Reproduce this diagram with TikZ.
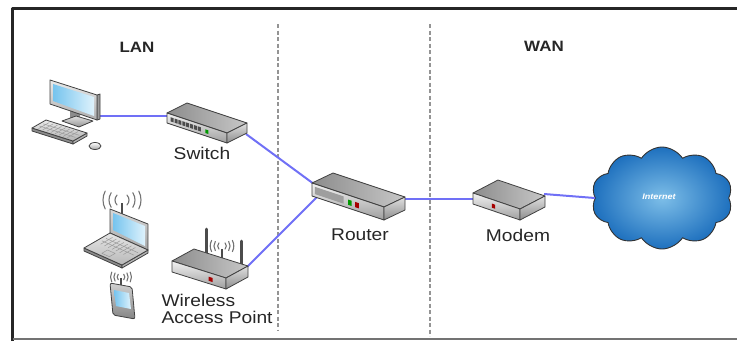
\documentclass[tikz,border=0pt]{standalone}
\usepackage{fontspec}
\setmainfont{Liberation Sans}
\usepackage{graphicx}
\usetikzlibrary{shapes.symbols}

\definecolor{linkblue}{RGB}{112,112,246}
\definecolor{scrlo}{RGB}{118,196,238}
\definecolor{scrhi}{RGB}{222,242,252}
\definecolor{cloudin}{RGB}{125,190,232}
\definecolor{cloudout}{RGB}{30,112,190}
\definecolor{edge}{RGB}{65,65,65}

% slightly widened lettering
\newcommand{\wide}[1]{\scalebox{1.13}[1]{#1}}

% box-shaped device: top, front and right faces in the device frame
\newcommand{\devbody}{%
  \path[devtop] (0,0,0) -- (1,0,0) -- (1,0,1) -- (0,0,1) -- cycle;
  \path[devfront] (0,0,0) -- (1,0,0) -- (1,1,0) -- (0,1,0) -- cycle;
  \path[devside] (1,0,0) -- (1,0,1) -- (1,1,1) -- (1,1,0) -- cycle;}

% small patch on the front face of a device
\newcommand{\facemark}[5]{\fill[#1] ({#2},{#3}) -- ({#4},{#3}) -- ({#4},{#5}) -- ({#2},{#5}) -- cycle;}

% radio waves around an antenna tip
\newcommand{\radiowaves}[3]{%
  \begin{scope}[shift={(#1,#2)}, scale=#3]
    \foreach \rad/\ang in {7/45,13/34,19/28}{
      \draw[wave] (\ang:\rad) arc ({\ang}:{-\ang}:\rad);
      \draw[wave] ({180-\ang}:\rad) arc ({180-\ang}:{180+\ang}:\rad);}
  \end{scope}}

\begin{document}
\begin{tikzpicture}[x=1pt, y=-1pt, line join=round,
  lbl/.style={font=\fontsize{17}{17.5}\selectfont, text=black!85},
  head/.style={font=\bfseries\fontsize{15}{18}\selectfont, text=black!85},
  link/.style={line width=2, draw=linkblue},
  zone/.style={line width=1.6, draw=black!42, dash pattern=on 4 off 2.5},
  wave/.style={line width=1.1, draw=black!55, line cap=round},
  devframe/.style n args={7}{shift={(#1,#2)}, x={(#3pt,-#4pt)}, y={(0pt,-#7pt)}, z={(#5pt,#6pt)}},
  devtop/.style={draw=edge, line width=0.8, left color=black!45, right color=black!22},
  devfront/.style={draw=edge, line width=0.8, top color=black!5, bottom color=black!38},
  devside/.style={draw=edge, line width=0.8, top color=black!12, bottom color=black!45},
  part/.style={draw=edge, line width=0.8},
  screen/.style={left color=scrlo, right color=scrhi},
  keyline/.style={draw=black!40, line width=0.5}]

\useasboundingbox (0,0) rectangle (737,341);

% frame
\draw[line width=3, black!85] (12.5,341) -- (12.5,8) -- (737,8);
\draw[line width=2, black!55] (12.5,339) -- (737,339);

% zone borders
\draw[zone] (278,24) -- (278,330);
\draw[zone] (430,24) -- (430,336);

% headings
\node[head] (lan) at (137,47) {\wide{LAN}};
\node[head] (wan) at (544,46) {\wide{WAN}};

% internet cloud
\node[cloud, cloud puffs=10, cloud puff arc=115, aspect=1.4,
      minimum width=141, minimum height=102,
      inner color=cloudin, outer color=cloudout, draw=black!80, line width=0.9] (net) at (662,198) {};
\node[font=\bfseries\itshape\fontsize{8}{9}\selectfont, text=white] (nettxt) at (659,197) {\wide{Internet}};

% connection points
\coordinate (pc) at (99,116);
\coordinate (swL) at (168,116);
\coordinate (swR) at (246,134);
\coordinate (rtA) at (318,187);
\coordinate (rtB) at (318,196);
\coordinate (apR) at (246,268);
\coordinate (rtR) at (404,199);
\coordinate (mdL) at (474,199);
\coordinate (mdR) at (544,194);

% links
\draw[link] (pc) -- (swL);
\draw[link] (swR) -- (rtA);
\draw[link] (apR) -- (rtB);
\draw[link] (rtR) -- (mdL);
\draw[link] (mdR) -- (net.west);

% desktop computer
\fill[black!45] (70,110) -- (80,113) -- (80,121) -- (70,118) -- cycle;
\path[part, top color=black!12, bottom color=black!42] (62,121) -- (76,116) -- (93,121) -- (79,127) -- cycle;
\path[part, fill=black!40] (97,95) -- (100,94) -- (100,119) -- (97,120) -- cycle;
\path[part, top color=black!8, bottom color=black!32] (50,80) -- (97,95) -- (97,120) -- (50,104) -- cycle;
\path[screen] (53,84) -- (94,97) -- (94,116) -- (53,101) -- cycle;
\path[part, fill=black!45] (32,128) -- (73,141) -- (73,144) -- (32,131) -- cycle;
\path[part, fill=black!30] (73,141) -- (87,133) -- (87,136) -- (73,144) -- cycle;
\path[part, top color=black!8, bottom color=black!30] (32,128) -- (73,141) -- (87,133) -- (46,120) -- cycle;
\begin{scope}[shift={(32,128)}, x={(41pt,-13pt)}, y={(14pt,8pt)}]
  \foreach \t in {0.12,0.22,...,0.92} {\draw[keyline] (\t,0.12) -- (\t,0.88);}
  \foreach \s in {0.35,0.62} {\draw[keyline] (0.06,\s) -- (0.94,\s);}
\end{scope}
\path[part, top color=white, bottom color=black!35] (95,146) ellipse [x radius=6, y radius=3.5];

% switch
\begin{scope}[devframe={167}{113}{60}{20}{20}{10}{10}]
  \devbody
  \foreach \i in {0,...,7} {%
    \facemark{black!70}{0.06+\i*0.065}{0.3}{0.11+\i*0.065}{0.72}}
  \facemark{green!60!black}{0.64}{0.35}{0.69}{0.72}
\end{scope}

% router
\begin{scope}[devframe={312}{183}{72}{24}{21}{10}{13}]
  \devbody
  \facemark{black!38}{0.04}{0.22}{0.44}{0.78}
  \facemark{green!60!black}{0.50}{0.35}{0.55}{0.75}
  \facemark{red!65!black}{0.60}{0.35}{0.65}{0.75}
\end{scope}

% modem
\begin{scope}[devframe={473}{193}{47}{16}{25}{13}{11}]
  \devbody
  \facemark{red!65!black}{0.40}{0.38}{0.47}{0.75}
\end{scope}

% wireless access point
\draw[line width=3, black!70, line cap=round] (206,229) -- (206,253);
\draw[line width=3, black!70, line cap=round] (241,241) -- (241,266);
\draw[line width=1.5, black!70] (222,249) -- (222,258);
\radiowaves{222}{246}{0.62}
\begin{scope}[devframe={172}{261}{54}{17}{22}{12}{11}]
  \devbody
  \facemark{red!65!black}{0.68}{0.38}{0.75}{0.75}
\end{scope}

% laptop
\path[part, top color=black!15, bottom color=black!35] (110,209) -- (148,224) -- (148,250) -- (110,233) -- cycle;
\path[screen] (113,213) -- (145,226) -- (145,246) -- (113,230) -- cycle;
\path[part, fill=black!45] (84,248) -- (122,265) -- (122,268) -- (84,251) -- cycle;
\path[part, fill=black!30] (122,265) -- (148,250) -- (148,253) -- (122,268) -- cycle;
\path[part, top color=black!10, bottom color=black!28] (110,233) -- (148,250) -- (122,265) -- (84,248) -- cycle;
\begin{scope}[shift={(110,233)}, x={(38pt,-17pt)}, y={(-26pt,-15pt)}]
  \foreach \t in {0.15,0.25,...,0.85} {\draw[keyline] (\t,0.12) -- (\t,0.58);}
  \foreach \s in {0.27,0.43} {\draw[keyline] (0.08,\s) -- (0.92,\s);}
  \draw[keyline] (0.4,0.68) -- (0.6,0.68) -- (0.6,0.9) -- (0.4,0.9) -- cycle;
\end{scope}
\draw[line width=1.5, black!70] (122,203) -- (122,214);
\radiowaves{122}{200}{1}

% tablet
\path[part, rounded corners=2, top color=black!18, bottom color=black!48] (110,283) -- (132,287) -- (135,319) -- (113,315) -- cycle;
\path[screen] (114,290) -- (129,293) -- (131,309) -- (116,306) -- cycle;
\draw[line width=1.3, black!70] (121,278) -- (121,285);
\radiowaves{121}{277}{0.55}

% device labels
\node[lbl] (swlbl) at (202,153) {\wide{Switch}};
\node[lbl] (rtlbl) at (360,235) {\wide{Router}};
\node[lbl] (mdlbl) at (518,235) {\wide{Modem}};
\node[lbl, align=left, anchor=west] (aplbl) at (158,309) {\wide{Wireless}\\\wide{Access Point}};

\end{tikzpicture}
\end{document}
